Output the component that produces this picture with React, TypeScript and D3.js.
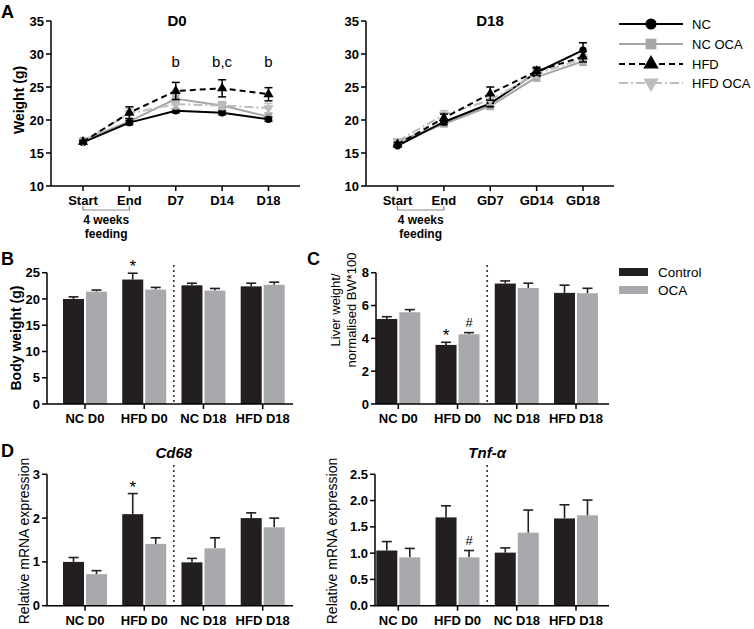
import React from 'react';
import * as d3 from 'd3';

const FONT = "Arial, 'Liberation Sans', Helvetica, sans-serif";
const BLACK = '#231f20';
const GRAY = '#a7a9ac';

// ---------- Panel A data ----------
const timeD0 = ['Start', 'End', 'D7', 'D14', 'D18'];
const timeD18 = ['Start', 'End', 'GD7', 'GD14', 'GD18'];
const seriesNames = ['NC', 'NC OCA', 'HFD', 'HFD OCA'];

const d0NC = [16.6, 19.6, 21.4, 21.1, 20.1];
const d0NCErr = [0.2, 0.3, 0.3, 0.3, 0.3];
const d0NCOCA = [16.9, 19.8, 23.2, 22.2, 20.5];
const d0NCOCAErr = [0.2, 0.4, 0.6, 0.5, 0.5];
const d0HFD = [16.7, 21.1, 24.4, 24.8, 23.9];
const d0HFDErr = [0.2, 0.9, 1.3, 1.3, 1.0];
const d0HFDOCA = [16.8, 21.0, 22.4, 22.2, 21.8];
const d0HFDOCAErr = [0.2, 0.7, 0.7, 0.6, 0.7];
const d0Notes = [
  { i: 2, text: 'b' },
  { i: 3, text: 'b,c' },
  { i: 4, text: 'b' },
];

const d18NC = [16.1, 19.7, 22.5, 27.2, 30.6];
const d18NCErr = [0.2, 0.4, 0.5, 0.6, 1.1];
const d18NCOCA = [16.7, 19.4, 22.1, 26.5, 28.9];
const d18NCOCAErr = [0.2, 0.4, 0.5, 0.6, 0.6];
const d18HFD = [16.3, 20.3, 24.0, 27.4, 29.6];
const d18HFDErr = [0.3, 0.6, 1.0, 0.6, 0.8];
const d18HFDOCA = [16.8, 20.8, 23.0, 27.0, 29.3];
const d18HFDOCAErr = [0.3, 0.6, 0.7, 0.6, 0.6];

// ---------- Bar panels data ----------
const groups = ['NC D0', 'HFD D0', 'NC D18', 'HFD D18'];
const barSeries = ['Control', 'OCA'];

const bwCtrl = [20.0, 23.7, 22.6, 22.4];
const bwCtrlErr = [0.4, 1.2, 0.4, 0.6];
const bwOca = [21.4, 21.8, 21.6, 22.7];
const bwOcaErr = [0.3, 0.4, 0.4, 0.5];
const bwTicks = [0, 5, 10, 15, 20, 25];

const lvCtrl = [5.18, 3.6, 7.34, 6.77];
const lvCtrlErr = [0.14, 0.16, 0.16, 0.47];
const lvOca = [5.59, 4.25, 7.07, 6.75];
const lvOcaErr = [0.16, 0.1, 0.29, 0.3];
const lvTicks = [0, 2, 4, 6, 8];

const cdCtrl = [1.0, 2.09, 0.99, 2.0];
const cdCtrlErr = [0.1, 0.47, 0.09, 0.12];
const cdOca = [0.72, 1.41, 1.31, 1.79];
const cdOcaErr = [0.08, 0.14, 0.24, 0.21];
const cdTicks = [0, 1, 2, 3];

const tnCtrl = [1.05, 1.68, 1.01, 1.66];
const tnCtrlErr = [0.17, 0.22, 0.09, 0.26];
const tnOca = [0.92, 0.92, 1.39, 1.72];
const tnOcaErr = [0.17, 0.13, 0.43, 0.29];
const tnTicks = [0, 0.5, 1.0, 1.5, 2.0, 2.5];

// ---------- styles ----------
const lineStyles = [
  { color: '#000', dash: undefined, symbol: d3.symbolCircle, size: 42, rot: 0 },
  { color: '#a6a6a6', dash: undefined, symbol: d3.symbolSquare, size: 50, rot: 0 },
  { color: '#000', dash: '6,4', symbol: d3.symbolTriangle, size: 45, rot: 0 },
  { color: '#bdbdbd', dash: '9,3,2,3', symbol: d3.symbolTriangle, size: 45, rot: 180 },
];
const drawOrder = [1, 0, 3, 2];

type Series = { values: number[]; errs: number[] };

function LinePanel(props: {
  x0: number; x1: number; first: number; last: number;
  labels: string[]; series: Series[]; title: string; titleX: number;
  notes?: { i: number; text: string }[]; letter?: string;
}) {
  const { x0, x1, first, last, labels, series, title, titleX, notes, letter } = props;
  const y = d3.scaleLinear().domain([10, 35]).range([186, 21]);
  const x = d3.scaleLinear().domain([0, labels.length - 1]).range([first, last]);
  const yTicks = d3.range(10, 36, 5);
  const line = d3.line<number>().x((_, i) => x(i)).y((v) => y(v));
  return (
    <g>
      {letter && (
        <text x={1} y={18} fontSize={18} fontWeight="bold" fontFamily={FONT}>{letter}</text>
      )}
      <text x={titleX} y={26} fontSize={15} fontWeight="bold" textAnchor="middle" fontFamily={FONT}>{title}</text>
      <line x1={x0} x2={x0} y1={y(35)} y2={y(10)} stroke="#000" strokeWidth={1.5} />
      <line x1={x0} x2={x1} y1={y(10)} y2={y(10)} stroke="#000" strokeWidth={1.5} />
      {yTicks.map((t) => (
        <g key={t}>
          <line x1={x0 - 5} x2={x0} y1={y(t)} y2={y(t)} stroke="#000" strokeWidth={1.5} />
          <text x={x0 - 7} y={y(t)} dy="0.35em" textAnchor="end" fontSize={13} fontWeight="bold" fontFamily={FONT}>{t}</text>
        </g>
      ))}
      {labels.map((l, i) => (
        <g key={l}>
          <line x1={x(i)} x2={x(i)} y1={y(10)} y2={y(10) + 5} stroke="#000" strokeWidth={1.5} />
          <text x={x(i)} y={y(10) + 19} textAnchor="middle" fontSize={13} fontWeight="bold" fontFamily={FONT}>{l}</text>
        </g>
      ))}
      <path d={`M${x(0)},${206}V${210}H${x(1)}V${206}`} fill="none" stroke="#8a8a8a" strokeWidth={1.2} />
      <text x={(x(0) + x(1)) / 2} y={224} textAnchor="middle" fontSize={12} fontWeight="bold" fontFamily={FONT}>4 weeks</text>
      <text x={(x(0) + x(1)) / 2} y={238} textAnchor="middle" fontSize={12} fontWeight="bold" fontFamily={FONT}>feeding</text>
      {drawOrder.map((si) => {
        const s = series[si];
        const st = lineStyles[si];
        return (
          <g key={si}>
            {s.values.map((v, i) => (
              <g key={i} stroke={st.color} strokeWidth={1.5}>
                <line x1={x(i)} x2={x(i)} y1={y(v - s.errs[i])} y2={y(v + s.errs[i])} />
                <line x1={x(i) - 4} x2={x(i) + 4} y1={y(v + s.errs[i])} y2={y(v + s.errs[i])} />
                <line x1={x(i) - 4} x2={x(i) + 4} y1={y(v - s.errs[i])} y2={y(v - s.errs[i])} />
              </g>
            ))}
            <path d={line(s.values) || ''} fill="none" stroke={st.color} strokeWidth={2} strokeDasharray={st.dash} />
            {s.values.map((v, i) => (
              <path key={i} d={d3.symbol().type(st.symbol).size(st.size)() || ''}
                transform={`translate(${x(i)},${y(v)}) rotate(${st.rot})`} fill={st.color} />
            ))}
          </g>
        );
      })}
      {notes && notes.map((n) => (
        <text key={n.i} x={x(n.i)} y={67} textAnchor="middle" fontSize={15} fontFamily={FONT}>{n.text}</text>
      ))}
    </g>
  );
}

function LineLegend() {
  const rows = [24, 44, 64, 83];
  return (
    <g>
      {seriesNames.map((n, i) => {
        const st = lineStyles[i];
        return (
          <g key={n}>
            <line x1={619} x2={683} y1={rows[i]} y2={rows[i]} stroke={st.color} strokeWidth={2.2} strokeDasharray={st.dash} />
            <path d={d3.symbol().type(st.symbol).size(st.size * 2.3)() || ''}
              transform={`translate(651,${rows[i]}) rotate(${st.rot})`} fill={st.color} />
            <text x={692} y={rows[i]} dy="0.35em" fontSize={13} fontFamily={FONT}>{n}</text>
          </g>
        );
      })}
    </g>
  );
}

function BarPanel(props: {
  x0: number; x1: number; t0: number; t3: number; yTop: number; yBot: number;
  ticks: number[]; fmt: (v: number) => string;
  ctrl: number[]; ctrlErr: number[]; oca: number[]; ocaErr: number[];
  marks?: { g: number; s: number; text: string; dy: number }[];
  yLabel: string[]; yLabelX: number; yLabelY: number; yLabelBold?: boolean; yLabelSize?: number;
  title?: string; dotTop: number;
}) {
  const p = props;
  const max = p.ticks[p.ticks.length - 1];
  const y = d3.scaleLinear().domain([0, max]).range([p.yBot, p.yTop]);
  const x = d3.scalePoint<string>().domain(groups).range([p.t0, p.t3]);
  const bw = 21;
  const dotX = ((x(groups[1]) as number) + (x(groups[2]) as number)) / 2;
  const bars = groups.flatMap((g, gi) => [
    { g, gi, s: 0, v: p.ctrl[gi], e: p.ctrlErr[gi], xl: (x(g) as number) - 1 - bw, fill: BLACK },
    { g, gi, s: 1, v: p.oca[gi], e: p.ocaErr[gi], xl: (x(g) as number) + 1, fill: GRAY },
  ]);
  return (
    <g>
      {p.yLabel.map((l, i) => (
        <text key={i} transform={`translate(${p.yLabelX + i * 16},${p.yLabelY}) rotate(-90)`}
          textAnchor="middle" fontSize={p.yLabelSize || 13.5} fontWeight={p.yLabelBold ? 'bold' : 'normal'} fontFamily={FONT}>{l}</text>
      ))}
      {p.title && (
        <text x={dotX} y={458} textAnchor="middle" fontSize={15} fontWeight="bold" fontStyle="italic" fontFamily={FONT}>{p.title}</text>
      )}
      {bars.map((b, i) => (
        <g key={i}>
          <line x1={b.xl + bw / 2} x2={b.xl + bw / 2} y1={y(b.v)} y2={y(b.v + b.e)} stroke={BLACK} strokeWidth={1.6} />
          <line x1={b.xl + bw / 2 - 5} x2={b.xl + bw / 2 + 5} y1={y(b.v + b.e)} y2={y(b.v + b.e)} stroke={BLACK} strokeWidth={1.6} />
          <rect x={b.xl} y={y(b.v)} width={bw} height={p.yBot - y(b.v)} fill={b.fill} />
        </g>
      ))}
      <line x1={dotX} x2={dotX} y1={p.dotTop} y2={p.yBot} stroke={BLACK} strokeWidth={2} strokeDasharray="0,5" strokeLinecap="round" />
      <line x1={p.x0} x2={p.x0} y1={p.yTop} y2={p.yBot} stroke="#000" strokeWidth={1.5} />
      <line x1={p.x0} x2={p.x1} y1={p.yBot} y2={p.yBot} stroke="#000" strokeWidth={1.5} />
      {p.ticks.map((t) => (
        <g key={t}>
          <line x1={p.x0 - 5} x2={p.x0} y1={y(t)} y2={y(t)} stroke="#000" strokeWidth={1.5} />
          <text x={p.x0 - 7} y={y(t)} dy="0.35em" textAnchor="end" fontSize={13} fontWeight="bold" fontFamily={FONT}>{p.fmt(t)}</text>
        </g>
      ))}
      {groups.map((g) => (
        <g key={g}>
          <line x1={x(g) as number} x2={x(g) as number} y1={p.yBot} y2={p.yBot + 5} stroke="#000" strokeWidth={1.5} />
          <text x={x(g) as number} y={p.yBot + 19} textAnchor="middle" fontSize={13} fontWeight="bold" fontFamily={FONT}>{g}</text>
        </g>
      ))}
      {p.marks && p.marks.map((m, i) => {
        const b = bars[m.g * 2 + m.s];
        return (
          <text key={i} x={b.xl + bw / 2} y={y(b.v + b.e) - m.dy} textAnchor="middle"
            fontSize={m.text === '*' ? 17 : 13} fontFamily={FONT}>{m.text}</text>
        );
      })}
    </g>
  );
}

function BarLegend() {
  const rows = [272, 290];
  return (
    <g>
      {barSeries.map((n, i) => (
        <g key={n}>
          <rect x={619} y={rows[i] - 4} width={29} height={8} fill={i === 0 ? BLACK : GRAY} />
          <text x={658} y={rows[i]} dy="0.35em" fontSize={13.5} fontFamily={FONT}>{n}</text>
        </g>
      ))}
    </g>
  );
}

export default function App() {
  const d0Series: Series[] = [
    { values: d0NC, errs: d0NCErr },
    { values: d0NCOCA, errs: d0NCOCAErr },
    { values: d0HFD, errs: d0HFDErr },
    { values: d0HFDOCA, errs: d0HFDOCAErr },
  ];
  const d18Series: Series[] = [
    { values: d18NC, errs: d18NCErr },
    { values: d18NCOCA, errs: d18NCOCAErr },
    { values: d18HFD, errs: d18HFDErr },
    { values: d18HFDOCA, errs: d18HFDOCAErr },
  ];
  const f0 = (v: number) => d3.format('d')(v);
  const f1 = (v: number) => d3.format('.1f')(v);
  return (
    <svg width={754} height={629} style={{ position: 'absolute', left: 0, top: 0, background: '#fff' }}>
      <rect width={754} height={629} fill="#fff" />
      <text transform="translate(24,100) rotate(-90)" textAnchor="middle" fontSize={14} fontWeight="bold" fontFamily={FONT}>Weight (g)</text>
      <LinePanel x0={51} x1={300} first={83} last={268.5} labels={timeD0} series={d0Series}
        title="D0" titleX={177} notes={d0Notes} letter="A" />
      <LinePanel x0={366} x1={614} first={397.5} last={583} labels={timeD18} series={d18Series}
        title="D18" titleX={490} />
      <LineLegend />

      <text x={1} y={265} fontSize={18} fontWeight="bold" fontFamily={FONT}>B</text>
      <BarPanel x0={47} x1={293} t0={85} t3={262.7} yTop={272.7} yBot={404} ticks={bwTicks} fmt={f0}
        ctrl={bwCtrl} ctrlErr={bwCtrlErr} oca={bwOca} ocaErr={bwOcaErr}
        marks={[{ g: 1, s: 0, text: '*', dy: 1 }]}
        yLabel={['Body weight (g)']} yLabelX={21} yLabelY={338} yLabelBold yLabelSize={14} dotTop={266} />

      <text x={307} y={265} fontSize={18} fontWeight="bold" fontFamily={FONT}>C</text>
      <BarPanel x0={376} x1={609} t0={398.3} t3={576} yTop={272.7} yBot={404} ticks={lvTicks} fmt={f0}
        ctrl={lvCtrl} ctrlErr={lvCtrlErr} oca={lvOca} ocaErr={lvOcaErr}
        marks={[{ g: 1, s: 0, text: '*', dy: 1 }, { g: 1, s: 1, text: '#', dy: 6 }]}
        yLabel={['Liver weight/', 'normalised BW*100']} yLabelX={340} yLabelY={310} yLabelSize={13} dotTop={266} />
      <BarLegend />

      <text x={1} y={457} fontSize={18} fontWeight="bold" fontFamily={FONT}>D</text>
      <BarPanel x0={47} x1={293} t0={85} t3={262.7} yTop={474.3} yBot={605.7} ticks={cdTicks} fmt={f0}
        ctrl={cdCtrl} ctrlErr={cdCtrlErr} oca={cdOca} ocaErr={cdOcaErr}
        marks={[{ g: 1, s: 0, text: '*', dy: 1 }]}
        yLabel={['Relative mRNA expression']} yLabelX={29} yLabelY={541} yLabelSize={14} title="Cd68" dotTop={466} />
      <BarPanel x0={375} x1={609} t0={398.3} t3={576} yTop={474.3} yBot={605.7} ticks={tnTicks} fmt={f1}
        ctrl={tnCtrl} ctrlErr={tnCtrlErr} oca={tnOca} ocaErr={tnOcaErr}
        marks={[{ g: 1, s: 1, text: '#', dy: 6 }]}
        yLabel={['Relative mRNA expression']} yLabelX={337} yLabelY={541} yLabelSize={14} title="Tnf-α" dotTop={466} />
    </svg>
  );
}
